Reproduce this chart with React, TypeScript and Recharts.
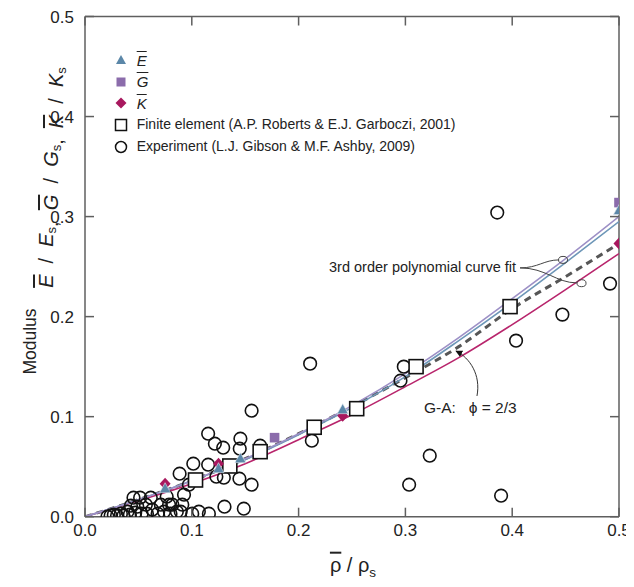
import React from 'react';
import { ComposedChart, XAxis, YAxis, Scatter, Line, Legend, ReferenceDot, ReferenceLine, Label } from 'recharts';

const FONT = '"Liberation Sans", Arial, Helvetica, sans-serif';

// ---- axis ticks ----
const axisTicks = [0, 0.1, 0.2, 0.3, 0.4, 0.5];
const tickLabels = ['0.0', '0.1', '0.2', '0.3', '0.4', '0.5'];

// ---- fitted curves ----
const fitX = [0, 0.05, 0.1, 0.15, 0.2, 0.25, 0.3, 0.35, 0.4, 0.45, 0.5];
const gFitY = [0, 0.017, 0.036, 0.058, 0.083, 0.111, 0.143, 0.179, 0.218, 0.258, 0.3];
const eFitY = [0, 0.017, 0.036, 0.057, 0.082, 0.109, 0.14, 0.176, 0.214, 0.254, 0.295];
const kFitY = [0, 0.016, 0.033, 0.053, 0.077, 0.102, 0.13, 0.159, 0.192, 0.227, 0.263];
const gaY = [0, 0.017, 0.036, 0.058, 0.083, 0.11, 0.139, 0.17, 0.208, 0.24, 0.273];

// ---- simulated moduli ----
const eX = [0.075, 0.125, 0.1455, 0.2413, 0.5];
const eY = [0.028, 0.048, 0.058, 0.107, 0.306];
const gX = [0.1775, 0.5];
const gY = [0.079, 0.314];
const kX = [0.075, 0.125, 0.2413, 0.5];
const kY = [0.033, 0.053, 0.101, 0.273];

// ---- finite element ----
const feX = [0.1035, 0.1356, 0.164, 0.2146, 0.2544, 0.31, 0.398];
const feY = [0.0367, 0.0507, 0.065, 0.0894, 0.108, 0.15, 0.21];

// ---- experiments ----
const expX = [0.021, 0.024, 0.027, 0.03, 0.0336, 0.036, 0.0398, 0.042, 0.043, 0.0454, 0.047, 0.049, 0.0516, 0.053,
  0.057, 0.058, 0.0616, 0.063, 0.068, 0.071, 0.074, 0.0765, 0.0787, 0.08, 0.0818, 0.086, 0.0886, 0.0896, 0.0911,
  0.0927, 0.0973, 0.1004, 0.1014, 0.1066, 0.1153, 0.1153, 0.116, 0.1216, 0.123, 0.1294, 0.13, 0.1306, 0.1446,
  0.1449, 0.1455, 0.1487, 0.156, 0.156, 0.164, 0.2108, 0.2124, 0.2954, 0.2985, 0.3035, 0.3228, 0.386, 0.3896,
  0.4036, 0.447, 0.4916];
const expY = [0.0, 0.001, 0.002, 0.001, 0.003, 0.001, 0.005, 0.002, 0.011, 0.019, 0.004, 0.01, 0.019, 0.003,
  0.012, 0.003, 0.019, 0.007, 0.003, 0.012, 0.005, 0.02, 0.012, 0.003, 0.012, 0.005, 0.043, 0.005, 0.012,
  0.022, 0.032, 0.003, 0.053, 0.005, 0.083, 0.052, 0.003, 0.073, 0.04, 0.069, 0.039, 0.01, 0.038,
  0.068, 0.078, 0.008, 0.106, 0.032, 0.071, 0.153, 0.076, 0.136, 0.15, 0.032, 0.061, 0.304, 0.021,
  0.176, 0.202, 0.233];

const zip = (xs: number[], ys: number[]) => xs.map((x, i) => ({ x, y: ys[i] }));
const gFit = zip(fitX, gFitY);
const eFit = zip(fitX, eFitY);
const kFit = zip(fitX, kFitY);
const gaFit = zip(fitX, gaY);
const eData = zip(eX, eY);
const gData = zip(gX, gY);
const kData = zip(kX, kY);
const feData = zip(feX, feY);
const expData = zip(expX, expY);

// annotation anchors (data coords)
const polyNote = { x: 0.4036, y: 0.2447, text: '3rd order polynomial curve fit' };
const gaNote = { x: 0.3174, y: 0.1037, text: 'G-A:   \u03D5 = 2/3' };

// ---- layout ----
const CHART_W = 626;
const CHART_H = 578;
const M_TOP = 8.5;
const M_RIGHT = 15;
const Y_AXIS_W = 77;
const X_AXIS_H = 69.3;
const PLOT_LEFT = Y_AXIS_W;
const PLOT_TOP = M_TOP;
const PLOT_RIGHT = CHART_W - M_RIGHT;
const PLOT_BOTTOM = CHART_H - X_AXIS_H;
const TICK_LEN = 9;

const C_E = '#5b87a8';
const C_G = '#8b6cab';
const C_K = '#a8185e';
const C_GLINE = '#9d90c6';
const C_ELINE = '#6e97b8';
const C_KLINE = '#b8256c';
const AXIS = '#5f5f5f';
const AXIS_W = 1.5;
const TXT = '#222';

const XTick = (p: any) => {
  const x = p.payload.coordinate;
  const i = axisTicks.indexOf(p.payload.value);
  return (
    <g>
      <line x1={x} x2={x} y1={PLOT_BOTTOM} y2={PLOT_BOTTOM - TICK_LEN} stroke={AXIS} strokeWidth={AXIS_W} />
      <line x1={x} x2={x} y1={PLOT_TOP} y2={PLOT_TOP + TICK_LEN} stroke={AXIS} strokeWidth={AXIS_W} />
      <text x={x} y={PLOT_BOTTOM + 19.5} textAnchor="middle" fontFamily={FONT} fontSize={17} fill={TXT}>{tickLabels[i]}</text>
    </g>
  );
};

const YTick = (p: any) => {
  const y = p.payload.coordinate;
  const i = axisTicks.indexOf(p.payload.value);
  return (
    <g>
      <line x1={PLOT_LEFT} x2={PLOT_LEFT + TICK_LEN} y1={y} y2={y} stroke={AXIS} strokeWidth={AXIS_W} />
      <line x1={PLOT_RIGHT} x2={PLOT_RIGHT - TICK_LEN} y1={y} y2={y} stroke={AXIS} strokeWidth={AXIS_W} />
      <text x={PLOT_LEFT - 11} y={y + 6} textAnchor="end" fontFamily={FONT} fontSize={17} fill={TXT}>{tickLabels[i]}</text>
    </g>
  );
};

const Circle = (p: any) => (
  <circle cx={p.cx} cy={p.cy} r={6.3} fill="none" stroke="#111" strokeWidth={1.6} />
);
const FeSquare = (p: any) => (
  <rect x={p.cx - 7} y={p.cy - 7} width={14} height={14} fill="#fff" stroke="#111" strokeWidth={1.6} />
);
const Tri = (p: any) => (
  <path d={`M${p.cx},${p.cy - 6} L${p.cx + 5.5},${p.cy + 4} L${p.cx - 5.5},${p.cy + 4} Z`} fill={C_E} stroke="#dfe8ef" strokeWidth={0.6} />
);
const GSq = (p: any) => (
  <rect x={p.cx - 4.8} y={p.cy - 4.8} width={9.6} height={9.6} fill={C_G} />
);
const Dia = (p: any) => (
  <path d={`M${p.cx},${p.cy - 6} L${p.cx + 5.5},${p.cy} L${p.cx},${p.cy + 6} L${p.cx - 5.5},${p.cy} Z`} fill={C_K} />
);

const PolyAnno = (p: any) => {
  const { cx, cy } = p;
  return (
    <g>
      <text x={cx} y={cy} textAnchor="end" fontFamily={FONT} fontSize={14.5} fill={TXT}>{polyNote.text}</text>
      <path d={`M${cx + 4},${cy - 4} C${cx + 22},${cy - 4} ${cx + 28},${cy - 12} ${cx + 43},${cy - 12}`} fill="none" stroke="#444" strokeWidth={1} />
      <path d={`M${cx + 4},${cy - 4} C${cx + 30},${cy - 4} ${cx + 40},${cy + 11} ${cx + 61},${cy + 11}`} fill="none" stroke="#444" strokeWidth={1} />
      <ellipse cx={cx + 47} cy={cy - 12} rx={4.5} ry={3.5} fill="none" stroke="#444" strokeWidth={1} />
      <ellipse cx={cx + 65.5} cy={cy + 11.3} rx={4.5} ry={3.5} fill="none" stroke="#444" strokeWidth={1} />
    </g>
  );
};

const GaAnno = (p: any) => {
  const { cx, cy } = p;
  return (
    <g>
      <defs>
        <marker id="ah" viewBox="0 0 10 10" refX="9" refY="5" markerWidth="7" markerHeight="7" orient="auto">
          <path d="M0,0 L10,5 L0,10 Z" fill="#111" />
        </marker>
      </defs>
      <text x={cx} y={cy} fontFamily={FONT} fontSize={15.5} fill={TXT} style={{ whiteSpace: 'pre' }}>{gaNote.text}</text>
      <path d={`M${cx + 53},${cy - 17} C${cx + 57},${cy - 38} ${cx + 46},${cy - 55} ${cx + 32},${cy - 62}`} fill="none" stroke="#333" strokeWidth={1} markerEnd="url(#ah)" />
    </g>
  );
};

const YTitle = () => {
  const mx = 22;
  const my = PLOT_TOP + 325;
  const fx = 38;
  const fy = PLOT_TOP + 161;
  const sub = (t: string) => [
    <tspan key={t + 'a'} dy={5} fontSize={13}>{t}</tspan>,
    <tspan key={t + 'b'} dy={-5}>{''}</tspan>,
  ];
  return (
    <g fontFamily={FONT} fill={TXT}>
      <text x={mx} y={my} transform={`rotate(-90 ${mx} ${my})`} textAnchor="middle" dominantBaseline="central" fontSize={17.5}>Modulus</text>
      <text x={fx} y={fy} transform={`rotate(-90 ${fx} ${fy})`} textAnchor="middle" dominantBaseline="central" fontSize={20} style={{ whiteSpace: 'pre' }}>
        <tspan fontStyle="italic" textDecoration="overline">E</tspan>
        <tspan>{'  /  '}</tspan>
        <tspan fontStyle="italic">E</tspan>
        {sub('s')}
        <tspan>{',  '}</tspan>
        <tspan fontStyle="italic" textDecoration="overline">G</tspan>
        <tspan>{'  /  '}</tspan>
        <tspan fontStyle="italic">G</tspan>
        {sub('s')}
        <tspan>{',  '}</tspan>
        <tspan fontStyle="italic" textDecoration="overline">K</tspan>
        <tspan>{'  /  '}</tspan>
        <tspan fontStyle="italic">K</tspan>
        {sub('s')}
      </text>
    </g>
  );
};

const XTitle = () => {
  const cx = PLOT_LEFT + 268;
  const cy = PLOT_BOTTOM + 55;
  return (
    <text x={cx} y={cy} textAnchor="middle" fontFamily={FONT} fontSize={20} fill={TXT} style={{ whiteSpace: 'pre' }}>
      <tspan textDecoration="overline">{'\u03C1'}</tspan>
      <tspan>{' / \u03C1'}</tspan>
      <tspan dy={5} fontSize={13.5}>s</tspan>
    </text>
  );
};

const legendItems = [
  { id: 'E', label: 'E', bar: true },
  { id: 'G', label: 'G', bar: true },
  { id: 'K', label: 'K', bar: true },
  { id: 'FE', label: 'Finite element (A.P. Roberts & E.J. Garboczi, 2001)', bar: false },
  { id: 'EXP', label: 'Experiment (L.J. Gibson & M.F. Ashby, 2009)', bar: false },
];

const legendIcon = (id: string) => {
  switch (id) {
    case 'E': return <path d="M8,3 L13,12 L3,12 Z" fill={C_E} />;
    case 'G': return <rect x={3.5} y={3.5} width={9} height={9} fill={C_G} />;
    case 'K': return <path d="M8,2.5 L13.5,8 L8,13.5 L2.5,8 Z" fill={C_K} />;
    case 'FE': return <rect x={2.5} y={2.5} width={11} height={11} fill="#fff" stroke="#111" strokeWidth={1.5} />;
    default: return <circle cx={8} cy={8} r={5.5} fill="none" stroke="#111" strokeWidth={1.5} />;
  }
};

const LegendBox = () => (
  <div style={{ fontFamily: FONT, fontSize: 14, color: TXT, lineHeight: '21.6px' }}>
    {legendItems.map((it) => (
      <div key={it.id} style={{ display: 'flex', alignItems: 'center', height: 21.6, whiteSpace: 'nowrap' }}>
        <svg width={16} height={16} style={{ marginRight: 8, flex: 'none' }}>{legendIcon(it.id)}</svg>
        <span style={it.bar ? { fontStyle: 'italic', textDecoration: 'overline', fontSize: 15 } : {}}>{it.label}</span>
      </div>
    ))}
  </div>
);

export default function App() {
  return (
    <ComposedChart width={CHART_W} height={CHART_H} margin={{ top: M_TOP, right: M_RIGHT, bottom: 0, left: 0 }}>
      <XAxis xAxisId="b" dataKey="x" type="number" domain={[0, 0.5]} ticks={axisTicks} orientation="bottom" height={X_AXIS_H}
        tickLine={false} tick={XTick} stroke={AXIS} strokeWidth={AXIS_W} allowDataOverflow interval={0}>
        <Label content={XTitle} />
      </XAxis>
      <YAxis yAxisId="l" dataKey="y" type="number" domain={[0, 0.5]} ticks={axisTicks} orientation="left" width={Y_AXIS_W}
        tickLine={false} tick={YTick} stroke={AXIS} strokeWidth={AXIS_W} allowDataOverflow interval={0}>
        <Label content={YTitle} />
      </YAxis>

      <ReferenceLine xAxisId="b" yAxisId="l" x={0.5} stroke={AXIS} strokeWidth={AXIS_W} ifOverflow="visible" />
      <ReferenceLine xAxisId="b" yAxisId="l" y={0.5} stroke={AXIS} strokeWidth={AXIS_W} ifOverflow="visible" />

      <Legend layout="vertical" align="center" verticalAlign="middle" content={LegendBox}
        wrapperStyle={{ position: 'absolute', left: 104.7, top: 41.5, width: 440, height: 'auto' }} />

      <Scatter name="Experiment" data={expData} xAxisId="b" yAxisId="l" shape={Circle} isAnimationActive={false} />
      <Line data={gaFit} dataKey="y" xAxisId="b" yAxisId="l" type="monotone" stroke="#565656" strokeWidth={3} strokeDasharray="7 5" dot={false} activeDot={false} isAnimationActive={false} />
      <Line data={kFit} dataKey="y" xAxisId="b" yAxisId="l" type="monotone" stroke={C_KLINE} strokeWidth={1.6} dot={false} activeDot={false} isAnimationActive={false} />
      <Line data={eFit} dataKey="y" xAxisId="b" yAxisId="l" type="monotone" stroke={C_ELINE} strokeWidth={1.6} dot={false} activeDot={false} isAnimationActive={false} />
      <Line data={gFit} dataKey="y" xAxisId="b" yAxisId="l" type="monotone" stroke={C_GLINE} strokeWidth={1.6} dot={false} activeDot={false} isAnimationActive={false} />
      <Scatter name="FE" data={feData} xAxisId="b" yAxisId="l" shape={FeSquare} isAnimationActive={false} />
      <Scatter name="G" data={gData} xAxisId="b" yAxisId="l" shape={GSq} isAnimationActive={false} />
      <Scatter name="K" data={kData} xAxisId="b" yAxisId="l" shape={Dia} isAnimationActive={false} />
      <Scatter name="E" data={eData} xAxisId="b" yAxisId="l" shape={Tri} isAnimationActive={false} />

      <ReferenceDot xAxisId="b" yAxisId="l" x={polyNote.x} y={polyNote.y} r={0} ifOverflow="visible" shape={PolyAnno} />
      <ReferenceDot xAxisId="b" yAxisId="l" x={gaNote.x} y={gaNote.y} r={0} ifOverflow="visible" shape={GaAnno} />
    </ComposedChart>
  );
}
